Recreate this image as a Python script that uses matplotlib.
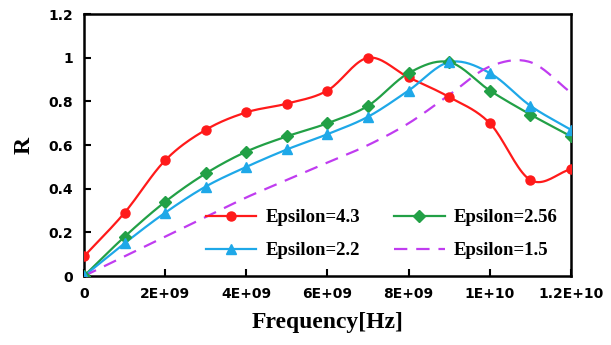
import numpy as np
import matplotlib
matplotlib.use('Agg')
import matplotlib.pyplot as plt

freq = [0, 1e9, 2e9, 3e9, 4e9, 5e9, 6e9, 7e9, 8e9, 9e9, 1e10, 1.1e10, 1.2e10]
r_eps43 = [0.09, 0.29, 0.53, 0.67, 0.75, 0.79, 0.85, 1.00, 0.91, 0.82, 0.70, 0.44, 0.49]
r_eps256 = [0.0, 0.18, 0.34, 0.47, 0.57, 0.64, 0.70, 0.78, 0.93, 0.98, 0.85, 0.74, 0.64]
r_eps22 = [0.0, 0.15, 0.29, 0.41, 0.50, 0.58, 0.65, 0.73, 0.85, 0.98, 0.93, 0.78, 0.67]
r_eps15 = [0.0, 0.09, 0.18, 0.27, 0.36, 0.44, 0.52, 0.60, 0.70, 0.83, 0.96, 0.98, 0.84]
xticks = [0, 2e9, 4e9, 6e9, 8e9, 1e10, 1.2e10]
xtick_labels = ['0', '2E+09', '4E+09', '6E+09', '8E+09', '1E+10', '1.2E+10']
yticks = [0, 0.2, 0.4, 0.6, 0.8, 1.0, 1.2]
ytick_labels = ['0', '0.2', '0.4', '0.6', '0.8', '1', '1.2']


def smooth(x, y, n=20):
    # Catmull-Rom style smoothing like Excel's smoothed lines
    x = np.asarray(x, float)
    y = np.asarray(y, float)
    px = np.concatenate([[2 * x[0] - x[1]], x, [2 * x[-1] - x[-2]]])
    py = np.concatenate([[2 * y[0] - y[1]], y, [2 * y[-1] - y[-2]]])
    xs, ys = [], []
    t = np.linspace(0, 1, n, endpoint=False)
    for i in range(1, len(px) - 2):
        for p, out in ((px, xs), (py, ys)):
            p0, p1, p2, p3 = p[i - 1], p[i], p[i + 1], p[i + 2]
            m1 = (p2 - p0) / 2
            m2 = (p3 - p1) / 2
            h00 = 2 * t**3 - 3 * t**2 + 1
            h10 = t**3 - 2 * t**2 + t
            h01 = -2 * t**3 + 3 * t**2
            h11 = t**3 - t**2
            out.extend(h00 * p1 + h10 * m1 + h01 * p2 + h11 * m2)
    xs.append(x[-1])
    ys.append(y[-1])
    return np.array(xs), np.array(ys)


fig = plt.figure(figsize=(6.11, 3.45), dpi=100)
ax = fig.add_axes([0.1375, 0.2, 0.797, 0.759])

series = [
    (r_eps43, '#FF1A1A', 'o', '-', 'Epsilon=4.3', 6.5),
    (r_eps256, '#22A046', 'D', '-', 'Epsilon=2.56', 6),
    (r_eps22, '#1EA8E8', '^', '-', 'Epsilon=2.2', 7.5),
    (r_eps15, '#C03CF0', None, (0, (6, 4)), 'Epsilon=1.5', 0),
]
handles = {}
for vals, col, mk, ls, lab, ms in series:
    sx, sy = smooth(freq, vals)
    ax.plot(sx, sy, color=col, lw=1.6, ls=ls, zorder=2)
    if mk:
        ax.plot(freq, vals, ls='none', marker=mk, color=col, ms=ms, zorder=3)
    h, = ax.plot([], [], color=col, lw=1.6, ls=ls, marker=mk, ms=ms)
    handles[lab] = h

order = ['Epsilon=4.3', 'Epsilon=2.2', 'Epsilon=2.56', 'Epsilon=1.5']
leg = ax.legend([handles[k] for k in order], order, ncol=2, frameon=False,
                loc='lower left', bbox_to_anchor=(0.215, 0.0), columnspacing=1.8,
                handlelength=2.7, handletextpad=0.5, labelspacing=0.85,
                prop={'family': 'Liberation Serif', 'weight': 'bold', 'size': 13.5})

ax.set_xlim(0, 1.2e10)
ax.set_ylim(0, 1.2)
ax.set_xticks(xticks)
ax.set_xticklabels(xtick_labels)
ax.set_yticks(yticks)
ax.set_yticklabels(ytick_labels)
ax.tick_params(direction='in', length=5, width=1.5, labelsize=10, pad=8)
for lbl in ax.get_xticklabels() + ax.get_yticklabels():
    lbl.set_fontweight('bold')
for sp in ax.spines.values():
    sp.set_linewidth(1.8)

ax.set_xlabel('Frequency[Hz]', family='Liberation Serif', weight='bold', size=17, labelpad=8)
ax.set_ylabel('R', family='Liberation Serif', weight='bold', size=17, labelpad=10)

fig.savefig('out.png', dpi=100)
